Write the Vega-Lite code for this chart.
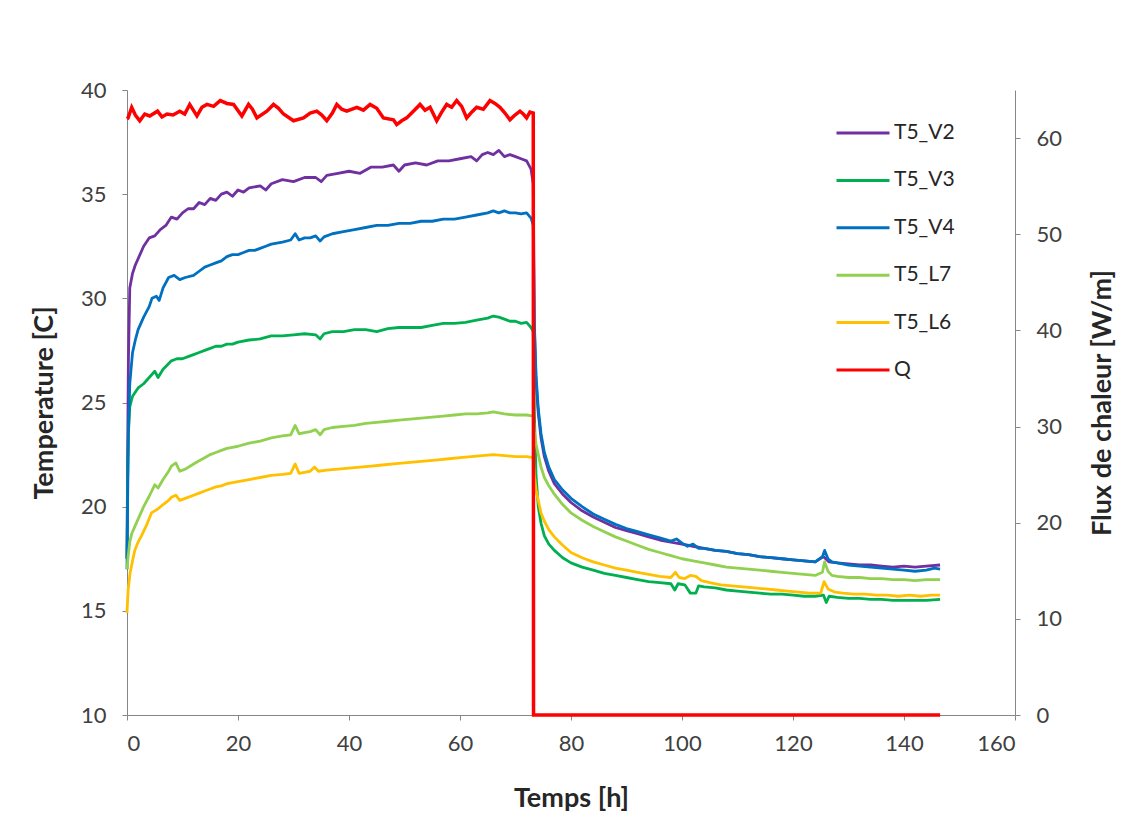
{
"$schema": "https://vega.github.io/schema/vega-lite/v6.json",
"width": 888, "height": 625,
"autosize": "none",
"padding": {"left": 127, "top": 90, "right": 129, "bottom": 123},
"background": "white",
"config": {"font": "Lato", "view": {"stroke": null},
 "axis": {"grid": false, "domainColor": "#868686", "tickColor": "#868686", "tickSize": 5, "labelColor": "#404040", "labelFontSize": 22, "titleColor": "#262626", "titleFontSize": 27, "titleFontWeight": "bold", "labelFont": "Lato", "titleFont": "Lato"}},
"datasets": {
"temp": [
{"s":"T5_V2","h":0,"T":17.5},{"s":"T5_V2","h":0.1,"T":22},{"s":"T5_V2","h":0.25,"T":27},{"s":"T5_V2","h":0.5,"T":30.5},{"s":"T5_V2","h":1,"T":31.2},{"s":"T5_V2","h":1.5,"T":31.6},{"s":"T5_V2","h":2,"T":31.9},{"s":"T5_V2","h":3,"T":32.5},{"s":"T5_V2","h":4,"T":32.9},{"s":"T5_V2","h":5,"T":33.0},{"s":"T5_V2","h":6,"T":33.3},{"s":"T5_V2","h":7,"T":33.5},{"s":"T5_V2","h":8,"T":33.9},{"s":"T5_V2","h":9,"T":33.8},{"s":"T5_V2","h":10,"T":34.1},{"s":"T5_V2","h":11,"T":34.3},{"s":"T5_V2","h":12,"T":34.3},{"s":"T5_V2","h":13,"T":34.6},{"s":"T5_V2","h":14,"T":34.5},{"s":"T5_V2","h":15,"T":34.8},{"s":"T5_V2","h":16,"T":34.7},{"s":"T5_V2","h":17,"T":35.0},{"s":"T5_V2","h":18,"T":35.1},{"s":"T5_V2","h":19,"T":34.9},{"s":"T5_V2","h":20,"T":35.2},{"s":"T5_V2","h":21,"T":35.1},{"s":"T5_V2","h":22,"T":35.3},{"s":"T5_V2","h":24,"T":35.4},{"s":"T5_V2","h":25,"T":35.2},{"s":"T5_V2","h":26,"T":35.5},{"s":"T5_V2","h":28,"T":35.7},{"s":"T5_V2","h":30,"T":35.6},{"s":"T5_V2","h":32,"T":35.8},{"s":"T5_V2","h":34,"T":35.8},{"s":"T5_V2","h":35,"T":35.6},{"s":"T5_V2","h":36,"T":35.9},{"s":"T5_V2","h":38,"T":36.0},{"s":"T5_V2","h":40,"T":36.1},{"s":"T5_V2","h":42,"T":36.0},{"s":"T5_V2","h":44,"T":36.3},{"s":"T5_V2","h":46,"T":36.3},{"s":"T5_V2","h":48,"T":36.4},{"s":"T5_V2","h":49,"T":36.1},{"s":"T5_V2","h":50,"T":36.4},{"s":"T5_V2","h":52,"T":36.5},{"s":"T5_V2","h":54,"T":36.4},{"s":"T5_V2","h":56,"T":36.6},{"s":"T5_V2","h":58,"T":36.6},{"s":"T5_V2","h":60,"T":36.7},{"s":"T5_V2","h":62,"T":36.8},{"s":"T5_V2","h":63,"T":36.6},{"s":"T5_V2","h":64,"T":36.9},{"s":"T5_V2","h":65,"T":37.0},{"s":"T5_V2","h":66,"T":36.9},{"s":"T5_V2","h":67,"T":37.1},{"s":"T5_V2","h":68,"T":36.8},{"s":"T5_V2","h":69,"T":36.9},{"s":"T5_V2","h":70,"T":36.8},{"s":"T5_V2","h":71,"T":36.7},{"s":"T5_V2","h":72,"T":36.6},{"s":"T5_V2","h":72.8,"T":36.2},{"s":"T5_V2","h":73.2,"T":35.5},
{"s":"T5_V2","h":73.4,"T":28.5},{"s":"T5_V2","h":73.7,"T":26.0},{"s":"T5_V2","h":74.1,"T":24.5},{"s":"T5_V2","h":74.6,"T":23.3},{"s":"T5_V2","h":75.2,"T":22.4},{"s":"T5_V2","h":76,"T":21.7},{"s":"T5_V2","h":77,"T":21.1},{"s":"T5_V2","h":78.5,"T":20.6},{"s":"T5_V2","h":80,"T":20.2},{"s":"T5_V2","h":82,"T":19.8},{"s":"T5_V2","h":84,"T":19.5},{"s":"T5_V2","h":86,"T":19.25},{"s":"T5_V2","h":88,"T":19.0},{"s":"T5_V2","h":90,"T":18.85},{"s":"T5_V2","h":92,"T":18.7},{"s":"T5_V2","h":94,"T":18.55},{"s":"T5_V2","h":96,"T":18.4},{"s":"T5_V2","h":98,"T":18.3},{"s":"T5_V2","h":100,"T":18.2},{"s":"T5_V2","h":102,"T":18.1},{"s":"T5_V2","h":104,"T":18.0},{"s":"T5_V2","h":106,"T":17.9},{"s":"T5_V2","h":108,"T":17.85},{"s":"T5_V2","h":110,"T":17.75},{"s":"T5_V2","h":112,"T":17.7},{"s":"T5_V2","h":114,"T":17.6},{"s":"T5_V2","h":116,"T":17.55},{"s":"T5_V2","h":118,"T":17.5},{"s":"T5_V2","h":120,"T":17.45},{"s":"T5_V2","h":122,"T":17.4},{"s":"T5_V2","h":124,"T":17.35},{"s":"T5_V2","h":125.5,"T":17.6},{"s":"T5_V2","h":126.5,"T":17.35},{"s":"T5_V2","h":128,"T":17.3},{"s":"T5_V2","h":130,"T":17.25},{"s":"T5_V2","h":132,"T":17.2},{"s":"T5_V2","h":134,"T":17.2},{"s":"T5_V2","h":136,"T":17.15},{"s":"T5_V2","h":138,"T":17.1},{"s":"T5_V2","h":140,"T":17.15},{"s":"T5_V2","h":142,"T":17.1},{"s":"T5_V2","h":144,"T":17.15},{"s":"T5_V2","h":146.5,"T":17.2},
{"s":"T5_V3","h":0,"T":17.5},{"s":"T5_V3","h":0.1,"T":21},{"s":"T5_V3","h":0.25,"T":23.5},{"s":"T5_V3","h":0.5,"T":24.8},{"s":"T5_V3","h":1,"T":25.3},{"s":"T5_V3","h":2,"T":25.7},{"s":"T5_V3","h":3,"T":25.9},{"s":"T5_V3","h":4,"T":26.2},{"s":"T5_V3","h":5,"T":26.5},{"s":"T5_V3","h":5.6,"T":26.2},{"s":"T5_V3","h":6.5,"T":26.6},{"s":"T5_V3","h":8,"T":27.0},{"s":"T5_V3","h":9,"T":27.1},{"s":"T5_V3","h":10,"T":27.1},{"s":"T5_V3","h":11,"T":27.2},{"s":"T5_V3","h":12,"T":27.3},{"s":"T5_V3","h":13,"T":27.4},{"s":"T5_V3","h":14,"T":27.5},{"s":"T5_V3","h":15,"T":27.6},{"s":"T5_V3","h":16,"T":27.7},{"s":"T5_V3","h":17,"T":27.7},{"s":"T5_V3","h":18,"T":27.8},{"s":"T5_V3","h":19,"T":27.8},{"s":"T5_V3","h":20,"T":27.9},{"s":"T5_V3","h":22,"T":28.0},{"s":"T5_V3","h":24,"T":28.05},{"s":"T5_V3","h":26,"T":28.2},{"s":"T5_V3","h":28,"T":28.2},{"s":"T5_V3","h":30,"T":28.25},{"s":"T5_V3","h":32,"T":28.3},{"s":"T5_V3","h":34,"T":28.25},{"s":"T5_V3","h":34.8,"T":28.05},{"s":"T5_V3","h":35.5,"T":28.3},{"s":"T5_V3","h":37,"T":28.4},{"s":"T5_V3","h":39,"T":28.4},{"s":"T5_V3","h":41,"T":28.5},{"s":"T5_V3","h":43,"T":28.5},{"s":"T5_V3","h":45,"T":28.4},{"s":"T5_V3","h":47,"T":28.55},{"s":"T5_V3","h":49,"T":28.6},{"s":"T5_V3","h":51,"T":28.6},{"s":"T5_V3","h":53,"T":28.6},{"s":"T5_V3","h":55,"T":28.7},{"s":"T5_V3","h":57,"T":28.8},{"s":"T5_V3","h":59,"T":28.8},{"s":"T5_V3","h":61,"T":28.85},{"s":"T5_V3","h":63,"T":28.95},{"s":"T5_V3","h":65,"T":29.05},{"s":"T5_V3","h":66,"T":29.15},{"s":"T5_V3","h":67,"T":29.1},{"s":"T5_V3","h":68,"T":29.0},{"s":"T5_V3","h":69,"T":28.9},{"s":"T5_V3","h":70,"T":28.9},{"s":"T5_V3","h":71,"T":28.8},{"s":"T5_V3","h":72,"T":28.85},{"s":"T5_V3","h":72.8,"T":28.6},{"s":"T5_V3","h":73.2,"T":28.4},
{"s":"T5_V3","h":73.4,"T":24.5},{"s":"T5_V3","h":73.7,"T":21.5},{"s":"T5_V3","h":74.1,"T":20.0},{"s":"T5_V3","h":74.6,"T":19.2},{"s":"T5_V3","h":75.2,"T":18.6},{"s":"T5_V3","h":76,"T":18.2},{"s":"T5_V3","h":77,"T":17.9},{"s":"T5_V3","h":78.5,"T":17.55},{"s":"T5_V3","h":80,"T":17.3},{"s":"T5_V3","h":82,"T":17.1},{"s":"T5_V3","h":84,"T":16.95},{"s":"T5_V3","h":86,"T":16.8},{"s":"T5_V3","h":88,"T":16.7},{"s":"T5_V3","h":90,"T":16.6},{"s":"T5_V3","h":92,"T":16.5},{"s":"T5_V3","h":94,"T":16.4},{"s":"T5_V3","h":96,"T":16.35},{"s":"T5_V3","h":98,"T":16.3},{"s":"T5_V3","h":98.7,"T":16.0},{"s":"T5_V3","h":99.3,"T":16.3},{"s":"T5_V3","h":100.5,"T":16.25},{"s":"T5_V3","h":101.5,"T":15.85},{"s":"T5_V3","h":102.5,"T":15.85},{"s":"T5_V3","h":103,"T":16.2},{"s":"T5_V3","h":104,"T":16.15},{"s":"T5_V3","h":106,"T":16.1},{"s":"T5_V3","h":108,"T":16.0},{"s":"T5_V3","h":110,"T":15.95},{"s":"T5_V3","h":112,"T":15.9},{"s":"T5_V3","h":114,"T":15.85},{"s":"T5_V3","h":116,"T":15.8},{"s":"T5_V3","h":118,"T":15.8},{"s":"T5_V3","h":120,"T":15.75},{"s":"T5_V3","h":122,"T":15.7},{"s":"T5_V3","h":124,"T":15.7},{"s":"T5_V3","h":125.5,"T":15.75},{"s":"T5_V3","h":126,"T":15.4},{"s":"T5_V3","h":126.5,"T":15.7},{"s":"T5_V3","h":128,"T":15.65},{"s":"T5_V3","h":130,"T":15.6},{"s":"T5_V3","h":132,"T":15.6},{"s":"T5_V3","h":134,"T":15.55},{"s":"T5_V3","h":136,"T":15.55},{"s":"T5_V3","h":138,"T":15.5},{"s":"T5_V3","h":140,"T":15.5},{"s":"T5_V3","h":142,"T":15.5},{"s":"T5_V3","h":144,"T":15.5},{"s":"T5_V3","h":146.5,"T":15.55},
{"s":"T5_V4","h":0,"T":17.0},{"s":"T5_V4","h":0.1,"T":20},{"s":"T5_V4","h":0.25,"T":23.5},{"s":"T5_V4","h":0.5,"T":25.9},{"s":"T5_V4","h":1,"T":27.4},{"s":"T5_V4","h":1.5,"T":28.0},{"s":"T5_V4","h":2,"T":28.5},{"s":"T5_V4","h":3,"T":29.1},{"s":"T5_V4","h":4,"T":29.6},{"s":"T5_V4","h":4.5,"T":30.0},{"s":"T5_V4","h":5.3,"T":30.1},{"s":"T5_V4","h":5.8,"T":29.9},{"s":"T5_V4","h":6.5,"T":30.5},{"s":"T5_V4","h":7.5,"T":31.0},{"s":"T5_V4","h":8.5,"T":31.1},{"s":"T5_V4","h":9.5,"T":30.9},{"s":"T5_V4","h":10.5,"T":31.0},{"s":"T5_V4","h":12,"T":31.1},{"s":"T5_V4","h":13,"T":31.3},{"s":"T5_V4","h":14,"T":31.5},{"s":"T5_V4","h":15,"T":31.6},{"s":"T5_V4","h":16,"T":31.7},{"s":"T5_V4","h":17,"T":31.8},{"s":"T5_V4","h":18,"T":32.0},{"s":"T5_V4","h":19,"T":32.1},{"s":"T5_V4","h":20,"T":32.1},{"s":"T5_V4","h":21,"T":32.2},{"s":"T5_V4","h":22,"T":32.3},{"s":"T5_V4","h":23,"T":32.3},{"s":"T5_V4","h":24,"T":32.4},{"s":"T5_V4","h":25,"T":32.5},{"s":"T5_V4","h":26,"T":32.6},{"s":"T5_V4","h":28,"T":32.7},{"s":"T5_V4","h":29.5,"T":32.8},{"s":"T5_V4","h":30.3,"T":33.1},{"s":"T5_V4","h":31,"T":32.8},{"s":"T5_V4","h":32,"T":32.9},{"s":"T5_V4","h":33,"T":32.9},{"s":"T5_V4","h":34,"T":33.0},{"s":"T5_V4","h":34.8,"T":32.75},{"s":"T5_V4","h":35.5,"T":32.95},{"s":"T5_V4","h":37,"T":33.1},{"s":"T5_V4","h":39,"T":33.2},{"s":"T5_V4","h":41,"T":33.3},{"s":"T5_V4","h":43,"T":33.4},{"s":"T5_V4","h":45,"T":33.5},{"s":"T5_V4","h":47,"T":33.5},{"s":"T5_V4","h":49,"T":33.6},{"s":"T5_V4","h":51,"T":33.6},{"s":"T5_V4","h":53,"T":33.7},{"s":"T5_V4","h":55,"T":33.7},{"s":"T5_V4","h":57,"T":33.8},{"s":"T5_V4","h":59,"T":33.8},{"s":"T5_V4","h":61,"T":33.9},{"s":"T5_V4","h":63,"T":34.0},{"s":"T5_V4","h":65,"T":34.1},{"s":"T5_V4","h":66,"T":34.2},{"s":"T5_V4","h":67,"T":34.1},{"s":"T5_V4","h":68,"T":34.2},{"s":"T5_V4","h":69,"T":34.1},{"s":"T5_V4","h":70,"T":34.1},{"s":"T5_V4","h":71,"T":34.05},{"s":"T5_V4","h":72,"T":34.1},{"s":"T5_V4","h":72.8,"T":33.85},{"s":"T5_V4","h":73.2,"T":33.5},
{"s":"T5_V4","h":73.4,"T":28.8},{"s":"T5_V4","h":73.7,"T":26.3},{"s":"T5_V4","h":74.1,"T":24.7},{"s":"T5_V4","h":74.6,"T":23.5},{"s":"T5_V4","h":75.2,"T":22.6},{"s":"T5_V4","h":76,"T":21.9},{"s":"T5_V4","h":77,"T":21.3},{"s":"T5_V4","h":78.5,"T":20.8},{"s":"T5_V4","h":80,"T":20.4},{"s":"T5_V4","h":82,"T":20.0},{"s":"T5_V4","h":84,"T":19.65},{"s":"T5_V4","h":86,"T":19.4},{"s":"T5_V4","h":88,"T":19.15},{"s":"T5_V4","h":90,"T":18.95},{"s":"T5_V4","h":92,"T":18.8},{"s":"T5_V4","h":94,"T":18.65},{"s":"T5_V4","h":96,"T":18.5},{"s":"T5_V4","h":98,"T":18.35},{"s":"T5_V4","h":99,"T":18.45},{"s":"T5_V4","h":100,"T":18.25},{"s":"T5_V4","h":101,"T":18.1},{"s":"T5_V4","h":102,"T":18.2},{"s":"T5_V4","h":103,"T":18.0},{"s":"T5_V4","h":104,"T":18.0},{"s":"T5_V4","h":106,"T":17.9},{"s":"T5_V4","h":108,"T":17.85},{"s":"T5_V4","h":110,"T":17.75},{"s":"T5_V4","h":112,"T":17.7},{"s":"T5_V4","h":114,"T":17.6},{"s":"T5_V4","h":116,"T":17.55},{"s":"T5_V4","h":118,"T":17.5},{"s":"T5_V4","h":120,"T":17.45},{"s":"T5_V4","h":122,"T":17.4},{"s":"T5_V4","h":124,"T":17.35},{"s":"T5_V4","h":125.3,"T":17.6},{"s":"T5_V4","h":125.7,"T":17.9},{"s":"T5_V4","h":126.3,"T":17.5},{"s":"T5_V4","h":127,"T":17.35},{"s":"T5_V4","h":128,"T":17.3},{"s":"T5_V4","h":130,"T":17.2},{"s":"T5_V4","h":132,"T":17.15},{"s":"T5_V4","h":134,"T":17.1},{"s":"T5_V4","h":136,"T":17.05},{"s":"T5_V4","h":138,"T":17.0},{"s":"T5_V4","h":140,"T":16.95},{"s":"T5_V4","h":142,"T":16.9},{"s":"T5_V4","h":144,"T":16.95},{"s":"T5_V4","h":145.5,"T":17.05},{"s":"T5_V4","h":146.5,"T":17.0},
{"s":"T5_L7","h":0,"T":17.0},{"s":"T5_L7","h":0.2,"T":17.6},{"s":"T5_L7","h":0.5,"T":18.3},{"s":"T5_L7","h":0.85,"T":18.7},{"s":"T5_L7","h":1.5,"T":19.1},{"s":"T5_L7","h":2,"T":19.4},{"s":"T5_L7","h":3,"T":20.0},{"s":"T5_L7","h":4,"T":20.5},{"s":"T5_L7","h":5,"T":21.05},{"s":"T5_L7","h":5.6,"T":20.9},{"s":"T5_L7","h":6.5,"T":21.3},{"s":"T5_L7","h":7.5,"T":21.7},{"s":"T5_L7","h":8,"T":21.95},{"s":"T5_L7","h":8.8,"T":22.1},{"s":"T5_L7","h":9.5,"T":21.7},{"s":"T5_L7","h":10.5,"T":21.8},{"s":"T5_L7","h":12,"T":22.05},{"s":"T5_L7","h":13,"T":22.2},{"s":"T5_L7","h":14,"T":22.35},{"s":"T5_L7","h":15,"T":22.5},{"s":"T5_L7","h":16,"T":22.6},{"s":"T5_L7","h":17,"T":22.7},{"s":"T5_L7","h":18,"T":22.8},{"s":"T5_L7","h":19,"T":22.85},{"s":"T5_L7","h":20,"T":22.9},{"s":"T5_L7","h":22,"T":23.05},{"s":"T5_L7","h":24,"T":23.15},{"s":"T5_L7","h":26,"T":23.3},{"s":"T5_L7","h":28,"T":23.4},{"s":"T5_L7","h":29.5,"T":23.45},{"s":"T5_L7","h":30.3,"T":23.9},{"s":"T5_L7","h":31,"T":23.5},{"s":"T5_L7","h":32,"T":23.55},{"s":"T5_L7","h":33,"T":23.6},{"s":"T5_L7","h":34,"T":23.7},{"s":"T5_L7","h":34.8,"T":23.45},{"s":"T5_L7","h":35.5,"T":23.7},{"s":"T5_L7","h":37,"T":23.8},{"s":"T5_L7","h":39,"T":23.85},{"s":"T5_L7","h":41,"T":23.9},{"s":"T5_L7","h":43,"T":24.0},{"s":"T5_L7","h":45,"T":24.05},{"s":"T5_L7","h":47,"T":24.1},{"s":"T5_L7","h":49,"T":24.15},{"s":"T5_L7","h":51,"T":24.2},{"s":"T5_L7","h":53,"T":24.25},{"s":"T5_L7","h":55,"T":24.3},{"s":"T5_L7","h":57,"T":24.35},{"s":"T5_L7","h":59,"T":24.4},{"s":"T5_L7","h":61,"T":24.45},{"s":"T5_L7","h":63,"T":24.45},{"s":"T5_L7","h":65,"T":24.5},{"s":"T5_L7","h":66,"T":24.55},{"s":"T5_L7","h":67,"T":24.5},{"s":"T5_L7","h":68,"T":24.45},{"s":"T5_L7","h":70,"T":24.4},{"s":"T5_L7","h":72,"T":24.4},{"s":"T5_L7","h":73.2,"T":24.35},
{"s":"T5_L7","h":73.4,"T":23.6},{"s":"T5_L7","h":73.7,"T":23.0},{"s":"T5_L7","h":74.1,"T":22.5},{"s":"T5_L7","h":74.6,"T":21.9},{"s":"T5_L7","h":75.2,"T":21.4},{"s":"T5_L7","h":76,"T":21.0},{"s":"T5_L7","h":77,"T":20.6},{"s":"T5_L7","h":78.5,"T":20.1},{"s":"T5_L7","h":80,"T":19.7},{"s":"T5_L7","h":82,"T":19.35},{"s":"T5_L7","h":84,"T":19.05},{"s":"T5_L7","h":86,"T":18.8},{"s":"T5_L7","h":88,"T":18.55},{"s":"T5_L7","h":90,"T":18.35},{"s":"T5_L7","h":92,"T":18.15},{"s":"T5_L7","h":94,"T":17.95},{"s":"T5_L7","h":96,"T":17.8},{"s":"T5_L7","h":98,"T":17.65},{"s":"T5_L7","h":100,"T":17.5},{"s":"T5_L7","h":102,"T":17.4},{"s":"T5_L7","h":104,"T":17.3},{"s":"T5_L7","h":106,"T":17.2},{"s":"T5_L7","h":108,"T":17.1},{"s":"T5_L7","h":110,"T":17.05},{"s":"T5_L7","h":112,"T":17.0},{"s":"T5_L7","h":114,"T":16.95},{"s":"T5_L7","h":116,"T":16.9},{"s":"T5_L7","h":118,"T":16.85},{"s":"T5_L7","h":120,"T":16.8},{"s":"T5_L7","h":122,"T":16.75},{"s":"T5_L7","h":124,"T":16.7},{"s":"T5_L7","h":125.3,"T":16.85},{"s":"T5_L7","h":125.7,"T":17.35},{"s":"T5_L7","h":126.3,"T":16.9},{"s":"T5_L7","h":127,"T":16.7},{"s":"T5_L7","h":128,"T":16.65},{"s":"T5_L7","h":130,"T":16.6},{"s":"T5_L7","h":132,"T":16.6},{"s":"T5_L7","h":134,"T":16.55},{"s":"T5_L7","h":136,"T":16.55},{"s":"T5_L7","h":138,"T":16.5},{"s":"T5_L7","h":140,"T":16.5},{"s":"T5_L7","h":142,"T":16.45},{"s":"T5_L7","h":144,"T":16.5},{"s":"T5_L7","h":146.5,"T":16.5},
{"s":"T5_L6","h":0,"T":14.9},{"s":"T5_L6","h":0.2,"T":16.0},{"s":"T5_L6","h":0.55,"T":16.8},{"s":"T5_L6","h":1,"T":17.4},{"s":"T5_L6","h":1.4,"T":17.9},{"s":"T5_L6","h":2,"T":18.3},{"s":"T5_L6","h":2.6,"T":18.6},{"s":"T5_L6","h":3.5,"T":19.1},{"s":"T5_L6","h":4.4,"T":19.7},{"s":"T5_L6","h":5,"T":19.8},{"s":"T5_L6","h":5.6,"T":19.9},{"s":"T5_L6","h":6.5,"T":20.1},{"s":"T5_L6","h":7.5,"T":20.3},{"s":"T5_L6","h":8,"T":20.45},{"s":"T5_L6","h":8.8,"T":20.55},{"s":"T5_L6","h":9.5,"T":20.3},{"s":"T5_L6","h":10.5,"T":20.4},{"s":"T5_L6","h":12,"T":20.55},{"s":"T5_L6","h":13,"T":20.65},{"s":"T5_L6","h":14,"T":20.75},{"s":"T5_L6","h":15,"T":20.85},{"s":"T5_L6","h":16,"T":20.95},{"s":"T5_L6","h":17,"T":21.0},{"s":"T5_L6","h":18,"T":21.1},{"s":"T5_L6","h":19,"T":21.15},{"s":"T5_L6","h":20,"T":21.2},{"s":"T5_L6","h":22,"T":21.3},{"s":"T5_L6","h":24,"T":21.4},{"s":"T5_L6","h":26,"T":21.5},{"s":"T5_L6","h":28,"T":21.55},{"s":"T5_L6","h":29.5,"T":21.6},{"s":"T5_L6","h":30.3,"T":22.05},{"s":"T5_L6","h":31,"T":21.6},{"s":"T5_L6","h":32,"T":21.65},{"s":"T5_L6","h":33,"T":21.7},{"s":"T5_L6","h":33.8,"T":21.9},{"s":"T5_L6","h":34.5,"T":21.7},{"s":"T5_L6","h":36,"T":21.75},{"s":"T5_L6","h":38,"T":21.8},{"s":"T5_L6","h":40,"T":21.85},{"s":"T5_L6","h":42,"T":21.9},{"s":"T5_L6","h":44,"T":21.95},{"s":"T5_L6","h":46,"T":22.0},{"s":"T5_L6","h":48,"T":22.05},{"s":"T5_L6","h":50,"T":22.1},{"s":"T5_L6","h":52,"T":22.15},{"s":"T5_L6","h":54,"T":22.2},{"s":"T5_L6","h":56,"T":22.25},{"s":"T5_L6","h":58,"T":22.3},{"s":"T5_L6","h":60,"T":22.35},{"s":"T5_L6","h":62,"T":22.4},{"s":"T5_L6","h":64,"T":22.45},{"s":"T5_L6","h":66,"T":22.5},{"s":"T5_L6","h":68,"T":22.45},{"s":"T5_L6","h":70,"T":22.4},{"s":"T5_L6","h":72,"T":22.4},{"s":"T5_L6","h":73.2,"T":22.35},
{"s":"T5_L6","h":73.4,"T":21.5},{"s":"T5_L6","h":73.7,"T":20.8},{"s":"T5_L6","h":74.1,"T":20.3},{"s":"T5_L6","h":74.6,"T":19.7},{"s":"T5_L6","h":75.2,"T":19.3},{"s":"T5_L6","h":76,"T":18.9},{"s":"T5_L6","h":77,"T":18.55},{"s":"T5_L6","h":78.5,"T":18.15},{"s":"T5_L6","h":80,"T":17.8},{"s":"T5_L6","h":82,"T":17.55},{"s":"T5_L6","h":84,"T":17.35},{"s":"T5_L6","h":86,"T":17.2},{"s":"T5_L6","h":88,"T":17.05},{"s":"T5_L6","h":90,"T":16.95},{"s":"T5_L6","h":92,"T":16.85},{"s":"T5_L6","h":94,"T":16.75},{"s":"T5_L6","h":96,"T":16.65},{"s":"T5_L6","h":98,"T":16.6},{"s":"T5_L6","h":98.8,"T":16.85},{"s":"T5_L6","h":99.5,"T":16.6},{"s":"T5_L6","h":100.5,"T":16.55},{"s":"T5_L6","h":101.5,"T":16.7},{"s":"T5_L6","h":102.5,"T":16.65},{"s":"T5_L6","h":103.5,"T":16.45},{"s":"T5_L6","h":105,"T":16.35},{"s":"T5_L6","h":107,"T":16.25},{"s":"T5_L6","h":109,"T":16.2},{"s":"T5_L6","h":111,"T":16.15},{"s":"T5_L6","h":113,"T":16.1},{"s":"T5_L6","h":115,"T":16.05},{"s":"T5_L6","h":117,"T":16.0},{"s":"T5_L6","h":119,"T":15.95},{"s":"T5_L6","h":121,"T":15.9},{"s":"T5_L6","h":123,"T":15.85},{"s":"T5_L6","h":125,"T":15.85},{"s":"T5_L6","h":125.6,"T":16.4},{"s":"T5_L6","h":126.3,"T":16.05},{"s":"T5_L6","h":127.5,"T":15.9},{"s":"T5_L6","h":129,"T":15.85},{"s":"T5_L6","h":131,"T":15.8},{"s":"T5_L6","h":133,"T":15.8},{"s":"T5_L6","h":135,"T":15.75},{"s":"T5_L6","h":137,"T":15.75},{"s":"T5_L6","h":139,"T":15.7},{"s":"T5_L6","h":141,"T":15.75},{"s":"T5_L6","h":143,"T":15.7},{"s":"T5_L6","h":145,"T":15.75},{"s":"T5_L6","h":146.5,"T":15.75}
],
"flux": [
{"s":"Q","h":0,"Q":62.0},{"s":"Q","h":0.2,"Q":62.1},{"s":"Q","h":0.85,"Q":63.2},{"s":"Q","h":1.5,"Q":62.4},{"s":"Q","h":2.3,"Q":61.8},{"s":"Q","h":3.2,"Q":62.5},{"s":"Q","h":4.1,"Q":62.3},{"s":"Q","h":5.5,"Q":62.8},{"s":"Q","h":6.3,"Q":62.2},{"s":"Q","h":7.2,"Q":62.5},{"s":"Q","h":8.3,"Q":62.4},{"s":"Q","h":9.5,"Q":62.8},{"s":"Q","h":10.4,"Q":62.5},{"s":"Q","h":11.3,"Q":63.5},{"s":"Q","h":12.6,"Q":62.3},{"s":"Q","h":13.5,"Q":63.2},{"s":"Q","h":14.4,"Q":63.5},{"s":"Q","h":15.6,"Q":63.3},{"s":"Q","h":16.8,"Q":63.9},{"s":"Q","h":18,"Q":63.6},{"s":"Q","h":19.2,"Q":63.5},{"s":"Q","h":20.7,"Q":62.3},{"s":"Q","h":21.9,"Q":63.5},{"s":"Q","h":22.6,"Q":63.0},{"s":"Q","h":23.4,"Q":62.1},{"s":"Q","h":25.2,"Q":62.8},{"s":"Q","h":26.4,"Q":63.5},{"s":"Q","h":27.3,"Q":63.1},{"s":"Q","h":28.2,"Q":62.5},{"s":"Q","h":30.0,"Q":61.8},{"s":"Q","h":31.8,"Q":62.1},{"s":"Q","h":33,"Q":62.6},{"s":"Q","h":34.2,"Q":62.8},{"s":"Q","h":35.1,"Q":62.4},{"s":"Q","h":36.0,"Q":61.8},{"s":"Q","h":37,"Q":62.6},{"s":"Q","h":37.8,"Q":63.5},{"s":"Q","h":38.7,"Q":63.0},{"s":"Q","h":39.6,"Q":62.8},{"s":"Q","h":41.4,"Q":63.2},{"s":"Q","h":42.6,"Q":62.9},{"s":"Q","h":43.8,"Q":63.5},{"s":"Q","h":45,"Q":63.1},{"s":"Q","h":46.2,"Q":62.1},{"s":"Q","h":48.0,"Q":61.9},{"s":"Q","h":48.6,"Q":61.4},{"s":"Q","h":49.5,"Q":61.8},{"s":"Q","h":50.4,"Q":62.1},{"s":"Q","h":51.6,"Q":62.8},{"s":"Q","h":52.8,"Q":63.5},{"s":"Q","h":53.7,"Q":62.9},{"s":"Q","h":54.6,"Q":63.2},{"s":"Q","h":55.8,"Q":61.8},{"s":"Q","h":56.7,"Q":62.7},{"s":"Q","h":57.6,"Q":63.5},{"s":"Q","h":58.5,"Q":63.2},{"s":"Q","h":59.4,"Q":63.9},{"s":"Q","h":60.3,"Q":63.3},{"s":"Q","h":61.2,"Q":62.1},{"s":"Q","h":62.1,"Q":62.7},{"s":"Q","h":63.0,"Q":63.2},{"s":"Q","h":64.2,"Q":63.0},{"s":"Q","h":65.4,"Q":63.9},{"s":"Q","h":66.3,"Q":63.6},{"s":"Q","h":67.2,"Q":63.2},{"s":"Q","h":68.1,"Q":62.6},{"s":"Q","h":69.0,"Q":61.9},{"s":"Q","h":69.9,"Q":62.4},{"s":"Q","h":70.8,"Q":62.8},{"s":"Q","h":71.4,"Q":62.5},{"s":"Q","h":72.0,"Q":62.1},{"s":"Q","h":72.6,"Q":62.7},{"s":"Q","h":73.2,"Q":62.6},{"s":"Q","h":73.25,"Q":0},{"s":"Q","h":100,"Q":0},{"s":"Q","h":146.5,"Q":0}
]
},
"layer": [
 {"data": {"name": "temp"},
  "mark": {"type": "line", "strokeWidth": 2.8, "strokeJoin": "round"},
  "encoding": {
   "x": {"field": "h", "type": "quantitative", "scale": {"domain": [0, 160], "nice": false},
     "axis": {"values": [0,20,40,60,80,100,120,140,160], "title": "Temps [h]", "labelPadding": 13, "titlePadding": 31}},
   "y": {"field": "T", "type": "quantitative", "scale": {"domain": [10, 40], "nice": false, "zero": false},
     "axis": {"values": [10,15,20,25,30,35,40], "title": "Temperature [C]", "labelPadding": 16, "titlePadding": 22}},
   "color": {"field": "s", "type": "nominal",
     "scale": {"domain": ["T5_V2","T5_V3","T5_V4","T5_L7","T5_L6","Q"], "range": ["#7030A0","#00B050","#0070C0","#92D050","#FFC000","#FF0000"]},
     "legend": {"orient": "none", "legendX": 708, "legendY": 15, "title": null, "symbolType": "stroke", "symbolSize": 2809, "symbolStrokeWidth": 3, "labelFontSize": 21, "labelColor": "#262626", "labelOffset": 3, "rowPadding": 9.4, "labelFont": "Lato"}}
  }},
 {"data": {"name": "flux"},
  "mark": {"type": "line", "strokeWidth": 3.5},
  "encoding": {
   "x": {"field": "h", "type": "quantitative"},
   "y": {"field": "Q", "type": "quantitative", "scale": {"domain": [0, 65], "nice": false},
     "axis": {"orient": "right", "values": [0,10,20,30,40,50,60], "title": "Flux de chaleur [W/m]", "titleAngle": -90, "labelPadding": 16, "titlePadding": 55}},
   "color": {"field": "s", "type": "nominal"}
  }}
],
"resolve": {"scale": {"y": "independent"}}
}
